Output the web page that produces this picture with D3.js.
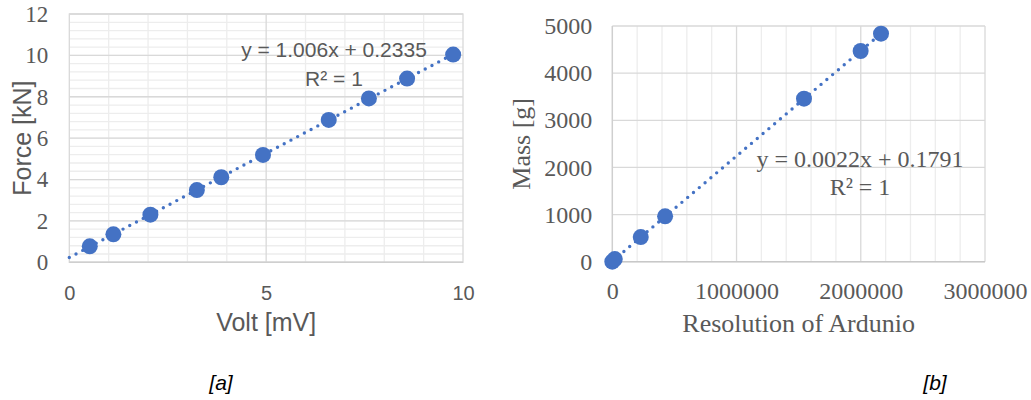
<!DOCTYPE html>
<html><head><meta charset="utf-8">
<script src="https://cdn.jsdelivr.net/npm/d3@7"></script>
<style>
html,body{margin:0;padding:0;background:#fff;}
svg{display:block;}
</style></head>
<body>
<svg id="chart" width="1031" height="400"></svg>
<script>
// ---- Data: chart [a]
const voltA  = [0.52, 1.12, 2.06, 3.24, 3.86, 4.92, 6.59, 7.61, 8.58, 9.75];
const forceA = [0.77, 1.35, 2.30, 3.49, 4.11, 5.19, 6.88, 7.92, 8.88, 10.04];
const ticksAy = [0, 2, 4, 6, 8, 10, 12];
const ticksAx = [0, 5, 10];
const eqA = ["y = 1.006x + 0.2335", "R² = 1"];
// ---- Data: chart [b]
const resolutionB = [0, 20000, 229000, 425000, 1543000, 1999000, 2163000];
const massB       = [0, 55, 523, 962, 3458, 4470, 4837];
const ticksBy = [0, 1000, 2000, 3000, 4000, 5000];
const ticksBx = [0, 1000000, 2000000, 3000000];
const eqB = ["y = 0.0022x + 0.1791", "R² = 1"];
const captions = ["[a]", "[b]"];

const svg = d3.select("#chart");
const BLUE = "#4472C4", TXT = "#595959", MAJOR = "#d9d9d9", MINOR = "#ededed";
const SANS = "'Liberation Sans', Arial, sans-serif";
const SERIF = "'Liberation Serif', 'Times New Roman', serif";

function regress(xs, ys){
  const n = xs.length, mx = d3.mean(xs), my = d3.mean(ys);
  let sxy = 0, sxx = 0;
  for (let i=0;i<n;i++){ sxy += (xs[i]-mx)*(ys[i]-my); sxx += (xs[i]-mx)**2; }
  const m = sxy/sxx; return {m, b: my - m*mx};
}

// ================= Chart A =================
const xA = d3.scaleLinear().domain([0,10]).range([69.3, 463]);
const yA = d3.scaleLinear().domain([0,12]).range([262.3, 14]);
const gA = svg.append("g");
gA.append("g").selectAll("line").data(d3.range(0, 12.001, 0.4)).join("line")
  .attr("x1", xA(0)).attr("x2", xA(10)).attr("y1", d=>yA(d)).attr("y2", d=>yA(d))
  .attr("stroke", MINOR).attr("stroke-width", 1.3);
gA.append("g").selectAll("line").data(d3.range(1, 10)).join("line")
  .attr("y1", yA(0)).attr("y2", yA(12)).attr("x1", d=>xA(d)).attr("x2", d=>xA(d))
  .attr("stroke", d=> d===5 ? MAJOR : MINOR).attr("stroke-width", 1.3);
gA.append("g").selectAll("line").data(ticksAy).join("line")
  .attr("x1", xA(0)).attr("x2", xA(10)).attr("y1", d=>yA(d)).attr("y2", d=>yA(d))
  .attr("stroke", MAJOR).attr("stroke-width", 1.3);
gA.append("rect").attr("x", xA(0)).attr("y", yA(12)).attr("width", xA(10)-xA(0)).attr("height", yA(0)-yA(12))
  .attr("fill", "none").attr("stroke", MAJOR).attr("stroke-width", 1.3);
gA.append("line").attr("x1", xA(0)).attr("x2", xA(10)).attr("y1", yA(0)).attr("y2", yA(0))
  .attr("stroke", "#cfcfcf").attr("stroke-width", 1.5);

const axAy = gA.append("g").attr("transform", `translate(${xA(0)},0)`)
  .call(d3.axisLeft(yA).tickValues(ticksAy).tickSize(0).tickPadding(21).tickFormat(d3.format("d")));
axAy.attr("font-family", null).attr("font-size", null);
axAy.select(".domain").remove();
axAy.selectAll("text").attr("fill", TXT).style("font-family", SERIF).style("font-size", "23px");
const axAx = gA.append("g").attr("transform", `translate(0,${yA(0)})`)
  .call(d3.axisBottom(xA).tickValues(ticksAx).tickSize(0).tickPadding(24).tickFormat(d3.format("d")));
axAx.attr("font-family", null).attr("font-size", null);
axAx.select(".domain").remove();
axAx.selectAll("text").attr("fill", TXT).style("font-family", SANS).style("font-size", "20px");

const rA = regress(voltA, forceA);
const trendA = [0, d3.max(voltA)];
gA.append("path").datum(trendA)
  .attr("d", d3.line().x(d=>xA(d)).y(d=>yA(rA.m*d + rA.b)))
  .attr("stroke", BLUE).attr("stroke-width", 3.4).attr("stroke-dasharray", "0 7.6")
  .attr("stroke-linecap", "round").attr("fill", "none");
gA.append("g").selectAll("circle").data(voltA).join("circle")
  .attr("cx", d=>xA(d)).attr("cy", (d,i)=>yA(forceA[i])).attr("r", 8).attr("fill", BLUE);

gA.append("text").attr("x", 334).attr("y", 57).attr("text-anchor", "middle")
  .attr("fill", TXT).style("font-family", SANS).style("font-size", "21px").text(eqA[0]);
gA.append("text").attr("x", 334).attr("y", 85.5).attr("text-anchor", "middle")
  .attr("fill", TXT).style("font-family", SANS).style("font-size", "21px").text(eqA[1]);

gA.append("text").attr("x", (xA(0)+xA(10))/2).attr("y", 331).attr("text-anchor", "middle")
  .attr("fill", TXT).style("font-family", SANS).style("font-size", "25px").text("Volt [mV]");
gA.append("text").attr("transform", `translate(31,${(yA(0)+yA(12))/2}) rotate(-90)`).attr("text-anchor", "middle")
  .attr("fill", TXT).style("font-family", SANS).style("font-size", "25px").text("Force [kN]");

// ================= Chart B =================
const xB = d3.scaleLinear().domain([0,3000000]).range([612.3, 985]);
const yB = d3.scaleLinear().domain([0,5000]).range([261.7, 26]);
const gB = svg.append("g");
gB.append("g").selectAll("line").data(d3.range(200000, 3000001, 200000)).join("line")
  .attr("y1", yB(0)).attr("y2", yB(5000)).attr("x1", d=>xB(d)).attr("x2", d=>xB(d))
  .attr("stroke", d=> (Math.round(d/200000) % 5 === 0) ? MAJOR : MINOR).attr("stroke-width", 1.3);
gB.append("g").selectAll("line").data(ticksBy).join("line")
  .attr("x1", xB(0)).attr("x2", xB(3000000)).attr("y1", d=>yB(d)).attr("y2", d=>yB(d))
  .attr("stroke", MAJOR).attr("stroke-width", 1.3);
gB.append("line").attr("x1", xB(0)).attr("x2", xB(0)).attr("y1", yB(0)).attr("y2", yB(5000))
  .attr("stroke", "#cfcfcf").attr("stroke-width", 1.5);
gB.append("line").attr("x1", xB(0)).attr("x2", xB(3000000)).attr("y1", yB(0)).attr("y2", yB(0))
  .attr("stroke", "#c8c8c8").attr("stroke-width", 1.5);

const axBy = gB.append("g").attr("transform", `translate(${xB(0)},0)`)
  .call(d3.axisLeft(yB).tickValues(ticksBy).tickSize(0).tickPadding(20).tickFormat(d3.format("d")));
axBy.attr("font-family", null).attr("font-size", null);
axBy.select(".domain").remove();
axBy.selectAll("text").attr("fill", TXT).style("font-family", SERIF).style("font-size", "24px");
const axBx = gB.append("g").attr("transform", `translate(0,${yB(0)})`)
  .call(d3.axisBottom(xB).tickValues(ticksBx).tickSize(0).tickPadding(20).tickFormat(d3.format("d")));
axBx.attr("font-family", null).attr("font-size", null);
axBx.select(".domain").remove();
axBx.selectAll("text").attr("fill", TXT).style("font-family", SERIF).style("font-size", "24px");

const rB = regress(resolutionB, massB);
const trendB = [0, d3.max(resolutionB)];
gB.append("path").datum(trendB)
  .attr("d", d3.line().x(d=>xB(d)).y(d=>yB(rB.m*d + rB.b)))
  .attr("stroke", BLUE).attr("stroke-width", 3.4).attr("stroke-dasharray", "0 7.6")
  .attr("stroke-linecap", "round").attr("fill", "none");
gB.append("g").selectAll("circle").data(resolutionB).join("circle")
  .attr("cx", d=>xB(d)).attr("cy", (d,i)=>yB(massB[i])).attr("r", 8).attr("fill", BLUE);

gB.append("text").attr("x", 860).attr("y", 167).attr("text-anchor", "middle")
  .attr("fill", TXT).style("font-family", SERIF).style("font-size", "24px").text(eqB[0]);
gB.append("text").attr("x", 860).attr("y", 195).attr("text-anchor", "middle")
  .attr("fill", TXT).style("font-family", SERIF).style("font-size", "24px").text(eqB[1]);

gB.append("text").attr("x", (xB(0)+xB(3000000))/2).attr("y", 332).attr("text-anchor", "middle")
  .attr("fill", TXT).style("font-family", SERIF).style("font-size", "26px").text("Resolution of Ardunio");
gB.append("text").attr("transform", `translate(530,${(yB(0)+yB(5000))/2}) rotate(-90)`).attr("text-anchor", "middle")
  .attr("fill", TXT).style("font-family", SERIF).style("font-size", "26px").text("Mass [g]");

svg.append("text").attr("x", 221).attr("y", 390).attr("text-anchor", "middle")
  .attr("fill", "#000").style("font-family", SANS).style("font-style", "italic").style("font-size", "21px").text(captions[0]);
svg.append("text").attr("x", 935).attr("y", 390).attr("text-anchor", "middle")
  .attr("fill", "#000").style("font-family", SANS).style("font-style", "italic").style("font-size", "21px").text(captions[1]);
</script>
</body></html>
